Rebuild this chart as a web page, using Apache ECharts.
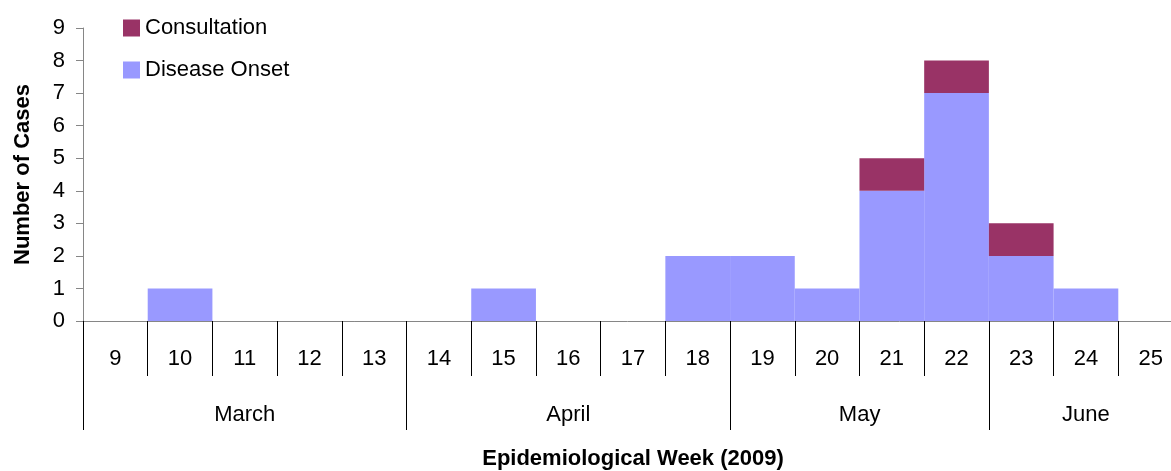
<!DOCTYPE html>
<html>
<head>
<meta charset="utf-8">
<script src="https://cdn.jsdelivr.net/npm/echarts@6/dist/echarts.min.js"></script>
<style>
html,body{margin:0;padding:0;background:#fff;}
#chart{width:1171px;height:471px;}
</style>
</head>
<body>
<div id="chart"></div>
<script>
// epidemiological weeks 2009
const weeks = ['9','10','11','12','13','14','15','16','17','18','19','20','21','22','23','24','25'];
const onset = [0,1,0,0,0,0,1,0,0,2,2,1,4,7,2,1,0];
const consult = [0,0,0,0,0,0,0,0,0,0,0,0,1,1,1,0,0];
const months = ['March','April','May','June'];
const monthLen = [5,5,4,3];

// where each month starts / its label sits (in category index)
let starts = [], labelAt = {}, s = 0;
months.forEach((m, i) => {
	starts.push(s);
	let c = s + (monthLen[i] - 1) / 2;
	labelAt[Math.floor(c)] = c % 1 ? '{half|' + m + '}' : m;
	s += monthLen[i];
});

const font = 'Liberation Sans, Arial, sans-serif';
const grey = '#868686';
let chart = echarts.init(document.getElementById('chart'));

chart.setOption({
	animation: false,
	textStyle: { fontFamily: font },
	legend: {
		orient: 'vertical',
		left: 118, top: 12,
		itemWidth: 17, itemHeight: 17, itemGap: 20,
		icon: 'rect',
		data: ['Consultation', 'Disease Onset'],
		textStyle: { fontSize: 22, color: '#000', fontFamily: font, padding: [0, 0, 6, 0] }
	},
	grid: { left: 83, top: 28, width: 1100, height: 293, containLabel: false, outerBoundsMode: 'none' },
	xAxis: [{
		type: 'category',
		data: weeks,
		axisLine: { lineStyle: { color: grey } },
		axisTick: { show: true, interval: 0, length: 55, lineStyle: { color: '#000' } },
		axisLabel: { interval: 0, margin: 27, fontSize: 22, color: '#000' },
		name: 'Epidemiological Week (2009)',
		nameLocation: 'middle',
		nameGap: 127,
		nameTextStyle: { fontSize: 22, fontWeight: 'bold', color: '#000' }
	}, {
		type: 'category',
		position: 'bottom',
		data: weeks,
		axisLine: { show: false },
		axisTick: {
			show: true,
			length: 109,
			interval: (idx) => starts.indexOf(idx) >= 0,
			lineStyle: { color: '#000' }
		},
		axisLabel: {
			interval: 0, margin: 83, fontSize: 22, color: '#000',
			formatter: (v, idx) => labelAt[idx] || '',
			rich: { half: { fontSize: 22, color: '#000', padding: [0, 0, 0, 65] } }
		}
	}],
	yAxis: {
		type: 'value',
		min: 0, max: 9, interval: 1,
		splitLine: { show: false },
		axisLine: { show: true, lineStyle: { color: grey } },
		axisTick: { show: true, length: 7, lineStyle: { color: grey } },
		axisLabel: { margin: 18, fontSize: 22, color: '#000' },
		name: 'Number of Cases',
		nameLocation: 'middle',
		nameGap: 49,
		nameTextStyle: { fontSize: 22, fontWeight: 'bold', color: '#000' }
	},
	series: [{
		name: 'Disease Onset',
		type: 'bar',
		stack: 'cases',
		barCategoryGap: '0%',
		itemStyle: { color: '#9999FF' },
		data: onset
	}, {
		name: 'Consultation',
		type: 'bar',
		stack: 'cases',
		barCategoryGap: '0%',
		itemStyle: { color: '#993366' },
		data: consult
	}]
});
</script>
</body>
</html>
